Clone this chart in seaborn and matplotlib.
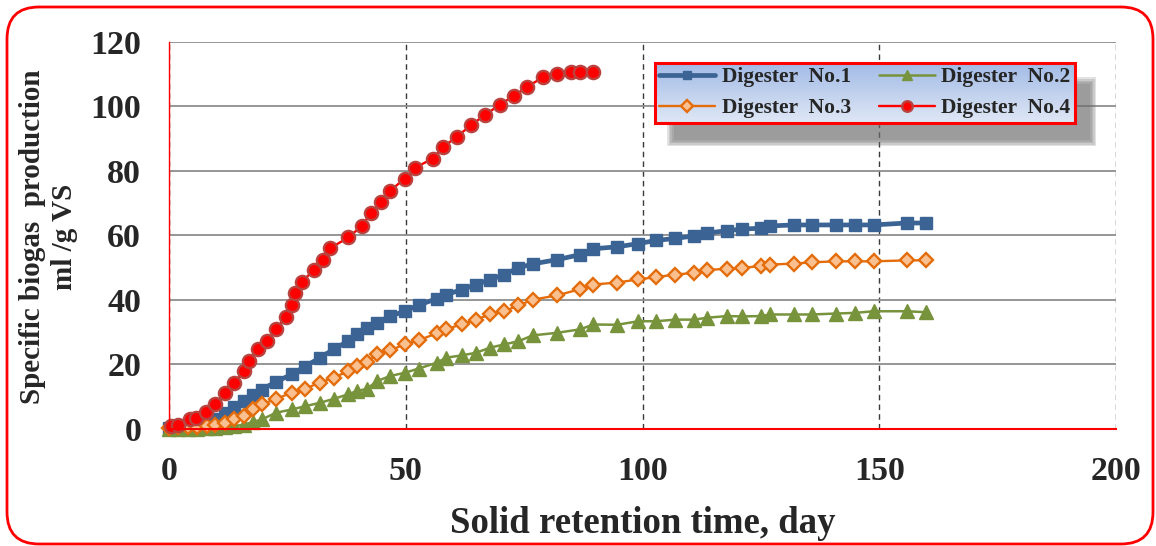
import matplotlib.pyplot as plt
import numpy as np
import seaborn as sns
from matplotlib.colors import LinearSegmentedColormap
from matplotlib.patches import FancyBboxPatch, Rectangle
from matplotlib.transforms import IdentityTransform

# digesters 1-3 share the sampling days
days = [0, 2, 4, 6, 8, 9.7, 11.8, 13.7, 15.8, 17.7, 19.6, 22.6, 25.9, 28.7, 31.9,
        34.8, 37.8, 39.6, 41.8, 43.9, 46.7, 49.8, 52.7, 56.5, 58.6, 61.8, 64.8,
        67.8, 70.8, 73.8, 76.8, 81.9, 86.9, 89.6, 94.6, 99.1, 102.9, 106.9, 110.9,
        113.7, 117.8, 121.0, 125.0, 127.0, 132.1, 135.8, 140.9, 144.9, 148.8,
        155.8, 159.9]
dig1 = [0.3, 0.6, 1.0, 1.5, 2.0, 2.8, 4.9, 6.6, 8.5, 10.3, 12.1, 14.5, 16.8, 19.2,
        22.0, 24.6, 27.1, 29.4, 31.3, 32.8, 34.9, 36.4, 38.3, 40.3, 41.6, 43.1,
        44.7, 46.2, 47.8, 49.9, 51.1, 52.4, 54.0, 55.8, 56.4, 57.4, 58.4, 59.0,
        59.8, 60.7, 61.4, 61.9, 62.2, 62.9, 63.2, 63.2, 63.2, 63.2, 63.2, 63.8, 63.8]
dig2 = [0.0, 0.0, 0.0, 0.0, 0.1, 0.2, 0.5, 0.7, 1.2, 2.0, 2.8, 4.9, 5.9, 6.9, 8.0,
        9.2, 10.6, 11.6, 12.3, 14.7, 16.3, 17.3, 18.6, 20.4, 22.0, 22.7, 23.5,
        25.1, 26.1, 27.1, 28.9, 29.7, 30.8, 32.3, 32.2, 33.3, 33.3, 33.8, 33.8,
        34.4, 34.9, 34.8, 34.9, 35.4, 35.4, 35.4, 35.7, 35.9, 36.4, 36.4, 36.1]
dig3 = [0.2, 0.5, 0.6, 0.6, 0.8, 1.2, 1.7, 3.0, 4.0, 5.9, 7.5, 9.2, 11.1, 12.4,
        14.2, 15.8, 17.8, 19.4, 20.6, 23.0, 24.3, 26.1, 27.4, 29.5, 30.9, 32.3,
        33.8, 35.4, 36.4, 38.2, 40.0, 41.3, 43.3, 44.7, 45.3, 46.3, 47.0, 47.8,
        48.3, 49.2, 49.6, 49.9, 50.4, 50.9, 51.2, 51.6, 51.9, 51.9, 51.9, 52.2, 52.2]

days4 = [0.5, 1.8, 4.4, 5.8, 7.8, 9.7, 11.8, 13.7, 15.8, 16.8, 18.9, 20.8, 22.6,
         24.7, 25.9, 26.6, 28.0, 30.6, 32.6, 33.9, 37.9, 40.7, 42.6, 44.7, 46.7,
         49.8, 52.0, 55.7, 57.8, 60.8, 63.8, 66.7, 69.8, 72.9, 75.7, 78.9, 81.9,
         85.0, 86.9, 89.6]
dig4 = [0.8, 1.1, 2.8, 3.3, 5.1, 7.5, 10.9, 14.2, 17.8, 21.1, 24.8, 27.1, 30.8,
        34.7, 38.3, 42.0, 45.5, 49.2, 52.3, 55.9, 59.3, 62.9, 66.8, 70.4, 73.8,
        77.6, 81.0, 83.8, 87.3, 90.6, 94.2, 97.3, 100.5, 103.3, 106.1, 109.0,
        110.0, 110.6, 110.6, 110.6]

labels = ["Digester  No.1", "Digester  No.2", "Digester  No.3", "Digester  No.4"]

sns.set_style("white")
plt.rcParams["font.family"] = ["Liberation Serif", "DejaVu Serif"]
plt.rcParams["font.weight"] = "bold"

fig = plt.figure(figsize=(11.56, 5.46), dpi=100)
ax = fig.add_axes([0.1462, 0.2152, 0.8192, 0.7079])

styles = [
    dict(color="#3b6494", lw=3.4, marker="s", ms=8, mfc="#3b6494", mec="#3b6494", mew=1),
    dict(color="#77933c", lw=1.8, marker="^", ms=9.5, mfc="#77933c", mec="#77933c", mew=1),
    dict(color="#e46c0a", lw=1.7, marker="D", ms=7.2, mfc="#fac090", mec="#e46c0a", mew=1.7),
    dict(color="#ff0000", lw=1.7, marker="o", ms=9.5, mfc="#ff0000", mec="#b8433f", mew=1.7),
]
series = [(days, dig1), (days, dig2), (days, dig3), (days4, dig4)]

handles = []
for (x, y), st in zip(series, styles):
    sns.lineplot(x=x, y=y, ax=ax, clip_on=False, **st)
    handles.append(ax.get_lines()[-1])

ax.set_xlim(0, 200)
ax.set_ylim(0, 120)
ax.set_xticks([0, 50, 100, 150, 200])
ax.set_yticks([0, 20, 40, 60, 80, 100, 120])
ax.tick_params(length=0, labelsize=24.5, pad=20)
ax.set_axisbelow(True)
ax.yaxis.grid(True, color="#8e8e8e", lw=1.3)
ax.xaxis.grid(True, color="#3a3a3a", lw=1.0, ls=(0, (4, 3)))
for side in ["top", "right"]:
    ax.spines[side].set_visible(False)
ax.spines["left"].set_color("#ff0000")
ax.spines["left"].set_linewidth(1.0)
ax.spines["bottom"].set_color("#ff0000")
ax.spines["bottom"].set_linewidth(1.5)

ax.set_xlabel("Solid retention time, day", fontsize=26.5, fontweight="bold")
ax.xaxis.set_label_coords(0.5, -0.245)
ax.xaxis.label.set_va("center")
fig.text(0.042, 0.566, "Specific biogas  production\nml /g VS", rotation=90,
         ha="center", va="center", multialignment="center", fontsize=21,
         fontweight="bold", linespacing=1.2)

# legend (column-wise fill: 1,3 | 2,4)
order = [0, 2, 1, 3]
leg = fig.legend([handles[i] for i in order], [labels[i] for i in order],
                 loc="upper left", bbox_to_anchor=(655 / 1156, 1 - 63 / 546),
                 ncol=2, fontsize=15.5, frameon=True, fancybox=False,
                 edgecolor="#ff0000", facecolor="none", framealpha=1,
                 borderpad=0.2, handlelength=2.6, handletextpad=0.3,
                 columnspacing=1.3, labelspacing=0.5, markerscale=0.8,
                 borderaxespad=0)
leg.get_frame().set_linewidth(2.2)
for t in leg.get_texts():
    t.set_fontweight("bold")

fig.canvas.draw()
bb = leg.get_window_extent().transformed(fig.transFigure.inverted())

# soft drop shadow
dx, dy = 17 / 1156, -19 / 546
for k in range(5):
    ex, ey = (k - 1) * 1.5 / 1156, (k - 1) * 1.5 / 546
    fig.add_artist(Rectangle((bb.x0 + dx - ex, bb.y0 + dy - ey),
                             bb.width + 2 * ex, bb.height + 2 * ey,
                             transform=fig.transFigure, color="#6e6e6e",
                             alpha=0.2, lw=0, zorder=3))

# gradient fill behind legend
gax = fig.add_axes([bb.x0, bb.y0, bb.width, bb.height], zorder=4)
cmap = LinearSegmentedColormap.from_list("lg", ["#a2bbe6", "#dfe7f5"])
gax.imshow(np.linspace(0, 1, 64).reshape(-1, 1), aspect="auto", cmap=cmap)
gax.set_axis_off()

# rounded red outer border
fig.add_artist(FancyBboxPatch((7, 2), 1146, 537,
                              boxstyle="round,pad=0,rounding_size=32",
                              transform=IdentityTransform(), fill=False,
                              edgecolor="#ff0000", lw=2, zorder=10))

fig.savefig("out.png", dpi=100)
